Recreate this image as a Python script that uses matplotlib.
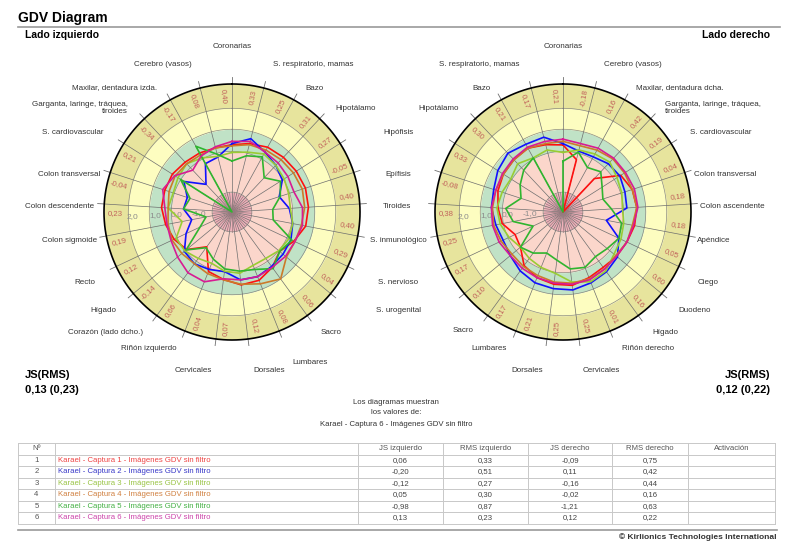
import numpy as np
import matplotlib
matplotlib.use("Agg")
import matplotlib.pyplot as plt

plt.rcParams['font.family'] = ['Liberation Sans', 'DejaVu Sans']

W, H = 788, 549

# ---- data -------------------------------------------------------------
n_sec = 25
series_names = ["Karael - Captura %d - Imágenes GDV sin filtro" % i for i in range(1, 7)]
line_colors = ['#ff1010', '#1010ff', '#99cc33', '#cc7a2a', '#2fb52f', '#d81b93']
text_colors = ['#ee4444', '#3838c8', '#99c444', '#d08040', '#44b044', '#cc44aa']

# values at each organ line, clockwise from the top (Coronarias)
left_vals = [
    [0.55, 0.70, 0.85, 0.90, 0.95, 1.00, 0.97, 0.90, 0.60, 0.30, 0.60, 0.83, 0.83, 0.58, 0.40, -0.55, 0.17, 0.40, 0.56, 0.70, 0.70, 0.70, 0.60, 0.55, 0.50],
    [0.60, 0.93, 0.60, 0.40, 0.20, -0.25, 0.10, 0.30, 0.45, 0.50, 0.55, 0.65, 0.60, 0.22, 0.30, 0.40, 0.30, -0.20, -0.64, -0.30, -0.37, 0.08, -0.78, 0.00, 0.07],
    [0.20, 0.30, 0.50, 0.40, 0.30, 0.20, 0.15, 0.30, 0.35, 0.25, 0.10, 0.10, 0.30, 0.20, 0.00, 0.10, 0.27, 0.30, -0.20, 0.40, 0.30, 0.40, 0.50, 0.30, 0.10],
    [0.50, 0.65, 0.70, 0.75, 0.80, 0.85, 0.80, 0.70, 0.65, 0.70, 1.25, 1.00, 0.80, 0.60, 0.50, 0.40, 0.45, 0.50, 0.45, 0.40, 0.50, 0.55, 0.50, 0.45, 0.50],
    [-0.19, 0.13, 0.35, -0.37, 0.10, -0.20, -0.65, -0.60, 0.50, 0.30, 0.67, 0.30, 0.20, 0.10, -0.20, -0.50, 0.20, -0.90, -1.30, -0.30, -0.50, 0.26, -2.50, 0.90, 0.20],
    [0.70, 0.80, 0.60, 0.55, 0.50, 0.45, 0.70, 0.75, 0.65, 0.65, 0.60, 0.65, 0.60, 0.55, 0.90, 0.90, 0.70, 0.55, 0.50, 0.55, 0.80, 0.57, 0.10, 0.40, 0.55],
]
right_vals = [
    [0.54, -0.05, -2.50, -0.42, 0.60, 0.80, 0.85, 0.80, 0.70, 0.65, 0.60, 0.70, 0.85, 0.80, 0.70, 0.50, 0.00, -0.10, 0.30, 0.45, 0.60, 0.70, 0.75, 0.80, 0.65],
    [0.60, 0.35, 0.35, 0.50, 0.55, 0.45, 0.40, -0.50, 0.30, 0.70, 0.85, 0.95, 1.06, 1.00, 0.95, 0.80, 0.60, 0.50, 0.60, 0.75, 0.80, 1.00, 1.15, 1.00, 1.00],
    [0.20, 0.40, 0.50, 0.60, 0.40, 0.30, 0.20, 0.30, 0.40, 0.50, 0.80, 0.90, 0.70, 0.30, 0.20, 0.10, 0.00, 0.20, 0.40, 0.50, 0.40, 0.30, 0.50, 0.30, 0.40],
    [0.70, 0.60, 0.70, 0.80, 0.80, 0.80, 0.85, 0.70, 0.70, 0.60, 0.70, 0.75, 0.75, 0.70, 0.60, 0.55, 0.50, 0.60, 0.70, 0.70, 0.70, 0.70, 0.75, 0.80, 0.70],
    [-0.20, 0.30, -0.20, 0.00, -0.40, -0.60, -0.30, 0.20, 0.30, 0.10, 0.00, 0.20, 0.10, -0.30, -0.50, -0.20, 0.00, -1.00, -0.20, 0.10, -0.50, -0.20, 0.10, 0.30, -2.50],
    [0.80, 0.70, 0.80, 0.85, 0.85, 0.90, 0.90, 0.75, 0.70, 0.65, 0.70, 0.80, 0.80, 0.75, 0.70, 0.65, 0.60, 0.70, 0.75, 0.75, 0.70, 0.75, 0.80, 0.85, 0.80],
]

left_sector_nums = ["0,33", "0,25", "0,31", "0,27", "-0,05", "0,40", "0,40", "0,29", "0,04", "0,06",
                    "0,08", "0,12", "0,07", "0,04", "0,66", "-0,14", "0,12", "0,19", "0,23", "-0,04",
                    "0,21", "-0,34", "-0,17", "0,08", "0,40"]
right_sector_nums = ["-0,18", "0,16", "0,42", "0,19", "0,04", "0,18", "0,18", "0,05", "0,60", "0,16",
                     "0,01", "0,25", "0,25", "0,21", "0,17", "0,10", "0,17", "0,25", "0,38", "-0,08",
                     "0,33", "0,30", "0,21", "0,17", "0,21"]

js_left = [0.06, -0.20, -0.12, 0.05, -0.98, 0.13]
rms_left = [0.33, 0.51, 0.27, 0.30, 0.87, 0.23]
js_right = [-0.09, 0.11, -0.16, -0.02, -1.21, 0.12]
rms_right = [0.75, 0.42, 0.44, 0.16, 0.63, 0.22]

# organ labels: (text, x, y, ha) in pixels
left_labels = [
    ("Coronarias", 232, 47, 'center'),
    ("S. respiratorio, mamas", 273, 64, 'left'),
    ("Bazo", 305, 88, 'left'),
    ("Hipotálamo", 335, 108, 'left'),
    ("Cerebro (vasos)", 192, 64, 'right'),
    ("Maxilar, dentadura izda.", 157, 88, 'right'),
    ("Garganta, laringe, tráquea,\ntiroides", 128, 108, 'right'),
    ("S. cardiovascular", 104, 133, 'right'),
    ("Colon transversal", 100, 175, 'right'),
    ("Colon descendente", 94, 207, 'right'),
    ("Colon sigmoide", 97, 240, 'right'),
    ("Recto", 95, 283, 'right'),
    ("Hígado", 116, 311, 'right'),
    ("Corazón (lado dcho.)", 143, 333, 'right'),
    ("Riñón izquierdo", 177, 349, 'right'),
    ("Cervicales", 212, 370, 'right'),
    ("Dorsales", 253, 370, 'left'),
    ("Lumbares", 292, 362, 'left'),
    ("Sacro", 321, 333, 'left'),
]
middle_labels = [
    ("Hipófisis", 383, 133),
    ("Epífisis", 385, 175),
    ("Tiroides", 383, 207),
    ("S. inmunológico", 370, 240),
    ("S. nervioso", 378, 283),
    ("S. urogenital", 376, 311),
]
right_labels = [
    ("Coronarias", 563, 47, 'center'),
    ("S. respiratorio, mamas", 439, 64, 'left'),
    ("Bazo", 472, 88, 'left'),
    ("Hipotálamo", 459, 108, 'right'),
    ("Cerebro (vasos)", 604, 64, 'left'),
    ("Maxilar, dentadura dcha.", 636, 88, 'left'),
    ("Garganta, laringe, tráquea,\ntiroides", 665, 108, 'left'),
    ("S. cardiovascular", 690, 133, 'left'),
    ("Colon transversal", 694, 175, 'left'),
    ("Colon ascendente", 700, 207, 'left'),
    ("Apéndice", 697, 240, 'left'),
    ("Ciego", 698, 283, 'left'),
    ("Duodeno", 678, 311, 'left'),
    ("Hígado", 652, 333, 'left'),
    ("Riñón derecho", 622, 349, 'left'),
    ("Cervicales", 583, 370, 'left'),
    ("Dorsales", 543, 370, 'right'),
    ("Lumbares", 507, 349, 'right'),
    ("Sacro", 474, 330, 'right'),
]

# ---- geometry ----------------------------------------------------------
RMIN, RMAX = -2.5, 3.3
rings = [(-2.5, -1.6, '#efb3bb'), (-1.6, 0.25, '#fbd6cb'), (0.25, 1.25, '#c0e2c6'),
         (1.25, 2.2, '#fdfdc0'), (2.2, 3.3, '#e7e49d')]
R_PIX = 128

fig = plt.figure(figsize=(W / 100, H / 100), dpi=100)
bg = fig.add_axes([0, 0, 1, 1])
bg.set_xlim(0, W)
bg.set_ylim(H, 0)
bg.axis('off')


def diagram(cx, cy, vals, nums):
    ax = fig.add_axes([(cx - R_PIX) / W, 1 - (cy + R_PIX) / H, 2 * R_PIX / W, 2 * R_PIX / H],
                      projection='polar')
    ax.set_theta_zero_location('N')
    ax.set_theta_direction(-1)
    ax.set_ylim(RMIN, RMAX)
    ax.set_axis_off()
    th = np.linspace(0, 2 * np.pi, 361)
    for a, b, c in rings:
        ax.fill_between(th, a, b, color=c, lw=0, zorder=1)
    for a, b, c in rings[1:]:
        ax.plot(th, np.full_like(th, a), color='#8a8a80', lw=0.5, zorder=2)
    ax.plot(th, np.full_like(th, RMAX), color='black', lw=1.2, zorder=6, clip_on=False)
    bnd = np.deg2rad(np.arange(n_sec) * 360.0 / n_sec)
    mids = bnd + np.pi / n_sec
    for a in bnd:
        ax.plot([a, a], [RMIN, RMAX], color='#6e6e6e', lw=0.5, zorder=2)
        ax.plot([a, a], [RMAX, RMAX + 0.3], color='#6e6e6e', lw=0.6, zorder=2, clip_on=False)
    for a in mids:
        ax.plot([a, a], [RMIN, -1.6], color='#9a7a80', lw=0.5, zorder=2)
    for v in (2, 1, 0, -1):
        ax.text(np.deg2rad(267.5), v, ("%.1f" % v).replace('.', ','), color='#8c8c8c',
                fontsize=6, ha='center', va='center', zorder=3)
    for a, s in zip(np.rad2deg(mids) + 3.0, nums):
        rot = 90 - a if a < 180 else 270 - a
        ax.text(np.deg2rad(a), 2.77, s, color='#c0605a', fontsize=5.6, rotation=rot,
                rotation_mode='anchor', ha='center', va='center', zorder=3)
    for v, c in zip(vals, line_colors):
        v = np.clip(np.asarray(v), RMIN, RMAX)
        ax.plot(np.append(bnd, bnd[0]), np.append(v, v[0]), color=c, lw=1.2, zorder=4)
    return ax


diagram(232, 212, left_vals, left_sector_nums)
diagram(563, 212, right_vals, right_sector_nums)

lab_kw = dict(fontsize=5.8, color='#333333', va='center')
for s, x, y, ha in left_labels + right_labels:
    bg.text(x, y, s, ha=ha, linespacing=1.1, **lab_kw)
for s, x, y in middle_labels:
    bg.text(x, y, s, ha='left', **lab_kw)

# ---- titles ------------------------------------------------------------
bg.text(18, 18, "GDV Diagram", fontsize=10, fontweight='bold', ha='left', va='center')
bg.plot([18, 780], [27, 27], color='#999999', lw=1.2)
bg.text(25, 35, "Lado izquierdo", fontsize=7.5, fontweight='bold', ha='left', va='center')
bg.text(770, 35, "Lado derecho", fontsize=7.5, fontweight='bold', ha='right', va='center')
bg.text(25, 375, "JS(RMS)", fontsize=8, fontweight='bold', ha='left', va='center')
bg.text(25, 390, "0,13 (0,23)", fontsize=8, fontweight='bold', ha='left', va='center')
bg.text(770, 375, "JS(RMS)", fontsize=8, fontweight='bold', ha='right', va='center')
bg.text(770, 390, "0,12 (0,22)", fontsize=8, fontweight='bold', ha='right', va='center')
bg.text(396, 402, "Los diagramas muestran", fontsize=5.6, color='#333333', ha='center', va='center')
bg.text(396, 413, "los valores de:", fontsize=5.6, color='#333333', ha='center', va='center')
bg.text(396, 425, series_names[5], fontsize=5.6, color='#333333', ha='center', va='center')

# ---- table -------------------------------------------------------------
col_x = [18, 55, 358, 443, 528, 612, 688, 775]
top, row_h = 443, 11.5
n_rows = len(series_names) + 1
for i in range(n_rows + 1):
    bg.plot([col_x[0], col_x[-1]], [top + i * row_h] * 2, color='#c8c8c8', lw=0.7)
for x in col_x:
    bg.plot([x, x], [top, top + n_rows * row_h], color='#c8c8c8', lw=0.7)
headers = ["Nº", "", "JS izquierdo", "RMS izquierdo", "JS derecho", "RMS derecho", "Activación"]
tkw = dict(fontsize=5.6, va='center')
for j, s in enumerate(headers):
    bg.text((col_x[j] + col_x[j + 1]) / 2, top + row_h / 2, s, color='#555555', ha='center', **tkw)


def fmt(v):
    return ("%.2f" % v).replace('.', ',')


for i, name in enumerate(series_names):
    y = top + (i + 1.5) * row_h
    bg.text((col_x[0] + col_x[1]) / 2, y, str(i + 1), color='#555555', ha='center', **tkw)
    bg.text(col_x[1] + 3, y, name, color=text_colors[i], ha='left', **tkw)
    for j, arr in enumerate([js_left, rms_left, js_right, rms_right]):
        bg.text((col_x[j + 2] + col_x[j + 3]) / 2, y, fmt(arr[i]), color='#444444', ha='center', **tkw)

bg.plot([18, 777], [530, 530], color='#999999', lw=1.2)
bg.text(777, 537, "© Kirlionics Technologies International", fontsize=6, fontweight='bold',
        color='#333333', ha='right', va='center')

fig.savefig("out.png", dpi=100)
